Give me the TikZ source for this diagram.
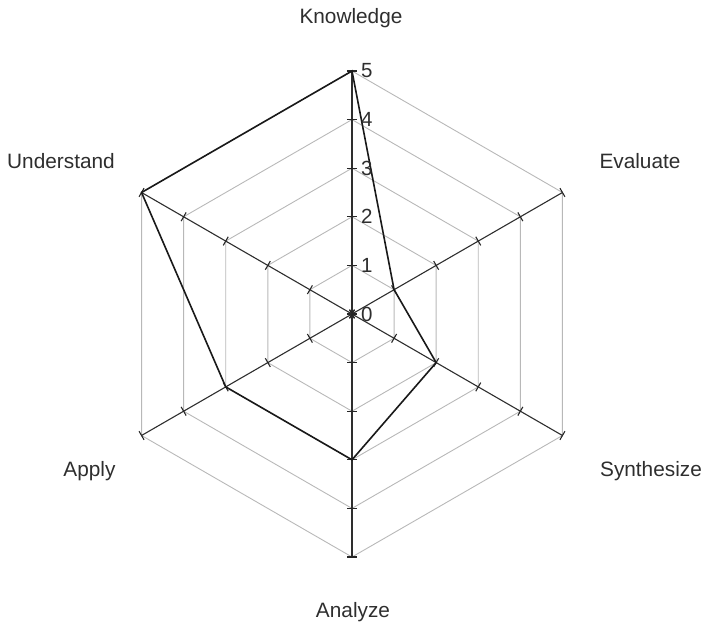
\documentclass[tikz,border=0pt]{standalone}
\usepackage{fontspec}
\setmainfont{Liberation Sans}
\usetikzlibrary{calc}
\begin{document}
\begin{tikzpicture}[x=1pt,y=1pt,
  gridline/.style={draw=black!28, line width=0.9pt},
  axisline/.style={draw=black!82, line width=1.1pt},
  tickmark/.style={draw=black!85, line width=1.1pt},
  dataline/.style={draw=black!90, line width=1.6pt, line join=miter},
  axislabel/.style={anchor=base, inner sep=0pt, text=black!82, font=\fontsize{20.8}{24}\selectfont},
  valuelabel/.style={anchor=west, inner sep=0pt, text=black!82, font=\fontsize{20.5}{24}\selectfont}]
\useasboundingbox (-352,-310) rectangle (353,314);
\def\unitr{48.6}
% hexagonal grid rings
\foreach \k in {1,...,5}{
  \draw[gridline] (90:\k*\unitr) -- (30:\k*\unitr) -- (-30:\k*\unitr) -- (-90:\k*\unitr)
    -- (210:\k*\unitr) -- (150:\k*\unitr) -- cycle;
}
% axes
\coordinate (O) at (0,0);
\foreach \name/\ang in {kn/90,ev/30,sy/-30,an/-90,ap/210,un/150}{
  \coordinate (\name) at (\ang:5*\unitr);
  \draw[axisline] (O) -- (\name);
  \foreach \k in {0,...,5}{
    \draw[tickmark] ($(\ang:\k*\unitr)+(\ang+90:5)$) -- ($(\ang:\k*\unitr)+(\ang-90:5)$);
  }
}
% data polygon
\coordinate (d1) at (90:5*\unitr);
\coordinate (d2) at (30:1*\unitr);
\coordinate (d3) at (-30:2*\unitr);
\coordinate (d4) at (-90:3*\unitr);
\coordinate (d5) at (210:3*\unitr);
\coordinate (d6) at (150:5*\unitr);
\draw[dataline] (d1) -- (d2) -- (d3) -- (d4) -- (d5) -- (d6) -- cycle;
% scale values
\foreach \k in {0,...,5}{
  \node[valuelabel] (v\k) at (9,\k*\unitr) {\k};
}
% axis names
\node[axislabel] (lkn) at (-1,290) {Knowledge};
\node[axislabel] (lev) at (288,145) {Evaluate};
\node[axislabel] (lsy) at (299,-162.5) {Synthesize};
\node[axislabel] (lan) at (1,-303) {Analyze};
\node[axislabel] (lap) at (-262.5,-162.5) {Apply};
\node[axislabel] (lun) at (-291,145) {Understand};
\end{tikzpicture}
\end{document}
